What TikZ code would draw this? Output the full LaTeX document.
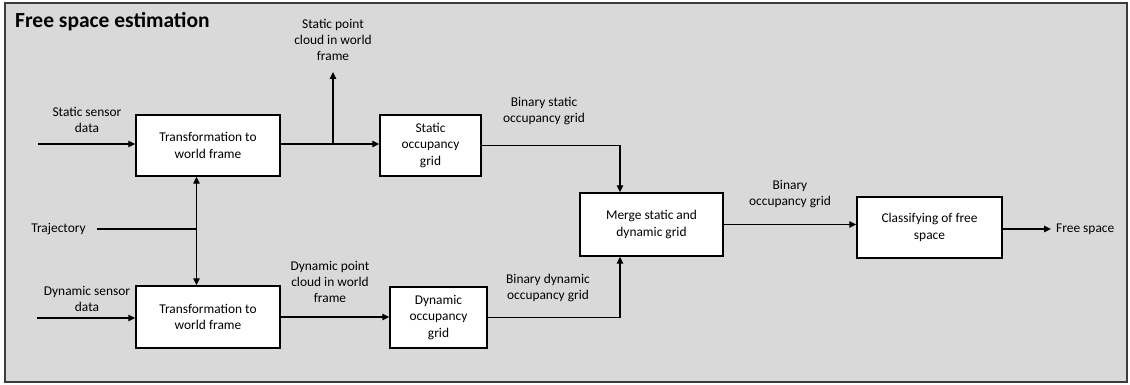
\documentclass[tikz,border=0pt]{standalone}
\usepackage{fontspec}
\setmainfont{Carlito}
\usetikzlibrary{arrows.meta,calc}

\definecolor{panelgray}{RGB}{217,217,217}
\definecolor{framegray}{RGB}{60,60,60}

\tikzset{
  blockbox/.style={draw=black,fill=white,line width=1.4pt,inner sep=0pt,align=center,
    font=\fontsize{13.4}{16.3}\selectfont},
  lbl/.style={inner sep=1pt,align=center,font=\fontsize{13.4}{16.3}\selectfont},
  flow/.style={line width=1.3pt,-{Triangle[length=7pt,width=6.5pt]}},
  twoway/.style={line width=1.3pt,{Triangle[length=7pt,width=6.5pt]}-{Triangle[length=7pt,width=6.5pt]}},
  plain/.style={line width=1.3pt}
}

\begin{document}
\begin{tikzpicture}[x=1pt,y=1pt,yscale=-1,xscale=1]
\useasboundingbox (0,0) rectangle (1130,385);

%Shape: Rectangle [panel]
\draw [fill=panelgray,draw=framegray,line width=1.5pt] (5,3) rectangle (1127,382);

% Text Node
\node (title) [anchor=base west,inner sep=0pt,font=\fontsize{21.5}{26}\selectfont\bfseries] at (15,27.5) {Free space estimation};

%Shape: Rectangle [blocks]
\node (tfstatic) [blockbox,minimum width=144,minimum height=61] at (208,145.5) {Transformation to\\world frame};
\node (tfdynamic) [blockbox,minimum width=144,minimum height=62] at (208,317) {Transformation to\\world frame};
\node (occstatic) [blockbox,minimum width=101,minimum height=61] at (430.5,145.5) {Static\\occupancy\\grid};
\node (occdynamic) [blockbox,minimum width=97,minimum height=61] at (438.5,317.5) {Dynamic\\occupancy\\grid};
\node (merge) [blockbox,minimum width=143,minimum height=63] at (651.5,224.5) {Merge static and\\dynamic grid};
\node (classify) [blockbox,minimum width=145,minimum height=61] at (929.5,227.5) {Classifying of free\\space};

% Text Node
\node (lstaticin) [lbl] at (87,120) {Static sensor\\data};
\node (ldynamicin) [lbl] at (87,299) {Dynamic sensor\\data};
\node (ltraj) [lbl] at (58.5,229) {Trajectory};
\node (lptstatic) [lbl] at (333,40) {Static point\\cloud in world\\frame};
\node (lptdynamic) [lbl] at (330,282) {Dynamic point\\cloud in world\\frame};
\node (lbinstatic) [lbl] at (544,111) {Binary static\\occupancy grid};
\node (lbindynamic) [lbl] at (548,288) {Binary dynamic\\occupancy grid};
\node (lbinocc) [lbl] at (790,194) {Binary\\occupancy grid};
\node (freespace) [lbl,anchor=west] at (1055,229) {Free space};

% Coordinates
\coordinate (instatic) at (38,144);
\coordinate (indynamic) at (37,318);
\coordinate (trajstart) at (97,229);
\coordinate (trajx) at (196.5,229);
\coordinate (branch) at (333,144);
\coordinate (ptstatic) at (333,72);
\coordinate (mergex) at (620,0);

%Straight Lines [inputs]
\draw [flow] (instatic) -- (instatic -| tfstatic.west);
\draw [flow] (indynamic) -- (indynamic -| tfdynamic.west);
\draw [plain] (trajstart) -- (trajx);
\draw [twoway] (trajx |- tfstatic.south) -- (trajx |- tfdynamic.north);

%Straight Lines [static branch]
\draw [flow] (branch -| tfstatic.east) -- (branch -| occstatic.west);
\draw [flow] (branch) -- (ptstatic);

%Straight Lines [dynamic branch]
\draw [flow] (tfdynamic.east) -- (tfdynamic.east -| occdynamic.west);

%Straight Lines [into merge]
\draw [flow] (occstatic.east) -- (occstatic.east -| mergex) -- (mergex |- merge.north);
\draw [flow] (occdynamic.east) -- (occdynamic.east -| mergex) -- (mergex |- merge.south);

%Straight Lines [outputs]
\draw [flow] (merge.east) -- (merge.east -| classify.west);
\draw [flow,shorten >=4pt] (classify.east |- freespace.west) -- (freespace.west);

\end{tikzpicture}
\end{document}
